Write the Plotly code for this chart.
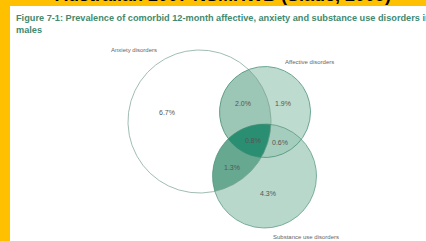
import numpy as np
import plotly.graph_objects as go

# ---- data ----
set_names = ["Anxiety disorders", "Affective disorders", "Substance use disorders"]
region_labels = ["6.7%", "1.9%", "4.3%", "2.0%", "1.3%", "0.6%", "0.8%"]
region_sets = [("Anx",), ("Aff",), ("Sub",), ("Anx", "Aff"), ("Anx", "Sub"), ("Aff", "Sub"), ("Anx", "Aff", "Sub")]
caption = "Figure 7-1: Prevalence of comorbid 12-month affective, anxiety and substance use disorders in<br>males"
banner = "Australian 2007 NSMHWB (Slade, 2009)"

# ---- layout geometry (pixel space) ----
W, H = 426, 241
circles = {"Anx": (199.5, 121.5, 71.5), "Aff": (265.0, 112.0, 45.5), "Sub": (264.5, 176.0, 52.0)}
label_pos = [(167, 112), (283, 103), (268, 193), (243, 103), (232, 167), (280, 142), (253, 140)]
name_pos = [(134, 50), (309, 62), (306, 237)]

region_colors = {
    ("Aff",): "#bedbcf",
    ("Sub",): "#b8d8cb",
    ("Aff", "Sub"): "#a5cdbd",
    ("Anx", "Aff"): "#9cc6b5",
    ("Anx", "Sub"): "#66a990",
    ("Anx", "Aff", "Sub"): "#2a8f72",
}


def region_poly(keys, n=1440):
    pts = []
    for k in keys:
        cx, cy, r = circles[k]
        t = np.linspace(0, 2 * np.pi, n, endpoint=False)
        x = cx + r * np.cos(t)
        y = cy + r * np.sin(t)
        m = np.ones_like(x, dtype=bool)
        for o in keys:
            if o == k:
                continue
            ox, oy, orad = circles[o]
            m &= (x - ox) ** 2 + (y - oy) ** 2 <= orad ** 2 + 1e-6
        pts.append(np.column_stack([x[m], y[m]]))
    p = np.vstack(pts)
    c = p.mean(axis=0)
    order = np.argsort(np.arctan2(p[:, 1] - c[1], p[:, 0] - c[0]))
    p = p[order]
    return np.append(p[:, 0], p[0, 0]), np.append(p[:, 1], p[0, 1])


fig = go.Figure()

paint_order = [("Aff",), ("Sub",), ("Aff", "Sub"), ("Anx", "Aff"), ("Anx", "Sub"), ("Anx", "Aff", "Sub")]
for keys in paint_order:
    x, y = region_poly(keys)
    fig.add_trace(go.Scatter(x=x, y=y, fill="toself", fillcolor=region_colors[keys],
                             mode="lines", line=dict(width=0), hoverinfo="skip", showlegend=False))

# outlines
outline = {"Anx": ("rgba(120,160,145,0.7)", 1.0), "Aff": ("rgba(60,135,110,0.7)", 1.0), "Sub": ("rgba(70,140,115,0.65)", 1.0)}
for k, (cx, cy, r) in circles.items():
    t = np.linspace(0, 2 * np.pi, 721)
    fig.add_trace(go.Scatter(x=cx + r * np.cos(t), y=cy + r * np.sin(t), mode="lines",
                             line=dict(color=outline[k][0], width=outline[k][1]),
                             hoverinfo="skip", showlegend=False))

shapes = [
    dict(type="rect", xref="x", yref="y", x0=0, x1=W, y0=0, y1=H, fillcolor="#FFC000", line_width=0, layer="below"),
    dict(type="rect", xref="x", yref="y", x0=10, x1=W + 2, y0=6, y1=H + 2, fillcolor="white", line_width=0, layer="below"),
]

ann = []
for (x, y), t in zip(label_pos, region_labels):
    ann.append(dict(x=x, y=y, text=t, showarrow=False, font=dict(family="Liberation Sans", size=7, color="#555555"),
                    xanchor="center", yanchor="middle"))
for (x, y), t in zip(name_pos, set_names):
    ann.append(dict(x=x, y=y, text=t, showarrow=False, font=dict(family="Liberation Sans", size=6, color="#666666"),
                    xanchor="center", yanchor="middle"))
ann.append(dict(x=14, y=11, text="<b>" + caption + "</b>", showarrow=False, align="left",
                font=dict(family="Liberation Sans", size=9.2, color="#3f8a70"), xanchor="left", yanchor="top"))
ann.append(dict(xref="paper", yref="paper", x=223 / W, y=1 - 7 / H, text="<b>" + banner + "</b>", showarrow=False,
                font=dict(family="Liberation Sans", size=18, color="black"), xanchor="center", yanchor="bottom"))

fig.update_layout(
    width=W, height=H, margin=dict(l=0, r=0, t=0, b=0),
    paper_bgcolor="#FFC000", plot_bgcolor="white",
    xaxis=dict(range=[0, W], visible=False, fixedrange=True),
    yaxis=dict(range=[H, 0], visible=False, fixedrange=True),
    shapes=shapes, annotations=ann, showlegend=False,
)
fig.write_html("out.html", config={"displayModeBar": False},
               post_script="document.body.style.margin='0';document.body.style.overflow='hidden';")
